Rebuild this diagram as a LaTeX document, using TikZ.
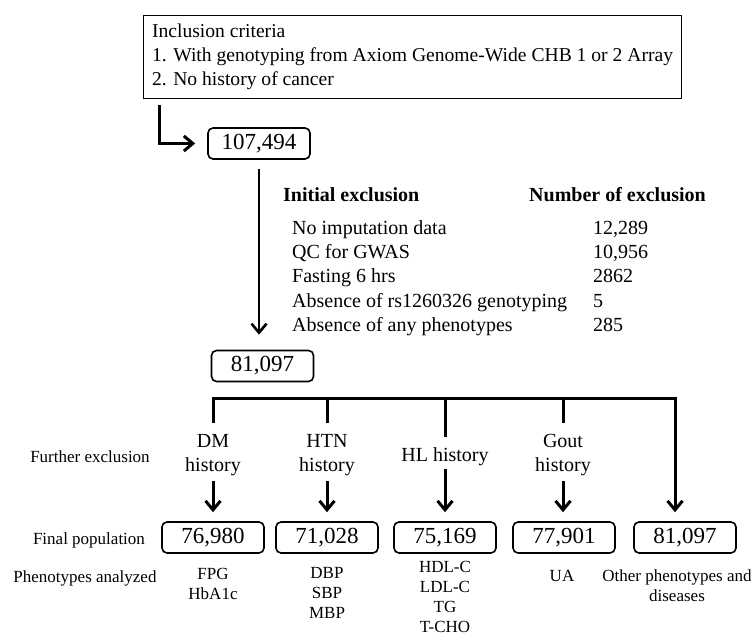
\documentclass[tikz,border=0pt]{standalone}
\usepackage{fontspec}
\setmainfont{Liberation Serif}
\usetikzlibrary{arrows.meta}
\begin{document}
\begin{tikzpicture}[>={Straight Barb[length=9bp,width=15bp]},line join=miter,
  numbox/.style={draw,rounded corners=5bp,line width=1.6bp,minimum width=102bp,minimum height=31bp,inner sep=0pt,font=\fontsize{23bp}{26bp}\selectfont},
  txt/.style={inner sep=0pt,font=\fontsize{20bp}{24bp}\selectfont},
  hdr/.style={inner sep=0pt,font=\fontsize{20bp}{24bp}\selectfont\bfseries},
  mid/.style={inner sep=0pt,align=center,font=\fontsize{20bp}{24bp}\selectfont},
  small/.style={inner sep=0pt,align=center,font=\fontsize{17bp}{20bp}\selectfont},
  bar/.style={line width=3bp},
]
\useasboundingbox (0bp,0bp) rectangle (754bp,637bp);
%%
\node (incl) at (143bp,622bp) [anchor=north west,draw,line width=1.1bp,inner xsep=8.5bp,inner ysep=0pt,minimum height=83bp,align=left,font=\fontsize{19.6bp}{24bp}\selectfont] {Inclusion criteria\\1. With genotyping from Axiom Genome-Wide CHB 1 or 2 Array\\2. No history of cancer};
  \node (n107) at (259bp,493.5bp) [numbox] {107,494};
  \node (n81) at (262.5bp,271bp) [numbox] {81,097};
  \coordinate (elbow) at (159bp,539bp);
  \draw [bar,->,shorten <=7bp,shorten >=12bp] (elbow) |- (n107.west);
  \draw [line width=2.6bp,->,shorten <=9bp,shorten >=15bp] (n107.south) -- (n107.south |- n81.north);
%
\node (hdinit) at (283bp,435.4bp) [hdr,anchor=base west] {Initial exclusion};
  \node (hdnum) at (529bp,435.4bp) [hdr,anchor=base west] {Number of exclusion};
  \node (ex1) at (292bp,402.5bp) [txt,anchor=base west] {No imputation data};
  \node (ex2) at (292bp,378.3bp) [txt,anchor=base west] {QC for GWAS};
  \node (ex3) at (292bp,354bp) [txt,anchor=base west] {Fasting 6 hrs};
  \node (ex4) at (292bp,329.8bp) [txt,anchor=base west] {Absence of rs1260326 genotyping};
  \node (ex5) at (292bp,305.5bp) [txt,anchor=base west] {Absence of any phenotypes};
  \node (num1) at (593bp,402.5bp) [txt,anchor=base west] {12,289};
  \node (num2) at (593bp,378.3bp) [txt,anchor=base west] {10,956};
  \node (num3) at (593bp,354bp) [txt,anchor=base west] {2862};
  \node (num4) at (593bp,329.8bp) [txt,anchor=base west] {5};
  \node (num5) at (593bp,305.5bp) [txt,anchor=base west] {285};
%
\node (lbfur) at (90bp,180bp) [small] {Further exclusion};
  \node (lbfin) at (89bp,97bp) [small] {Final population};
  \node (lbphe) at (85bp,59bp) [small] {Phenotypes analyzed};
  \node (dm) at (213bp,182bp) [mid] {DM\\history};
  \node (htn) at (327bp,182bp) [mid] {HTN\\history};
  \node (hl) at (445bp,180bp) [mid] {HL history};
  \node (gout) at (563bp,182bp) [mid] {Gout\\history};
  \node (fin1) at (213bp,99.5bp) [numbox] {76,980};
  \node (fin2) at (327bp,99.5bp) [numbox] {71,028};
  \node (fin3) at (445bp,99.5bp) [numbox] {75,169};
  \node (fin4) at (564bp,99.5bp) [numbox] {77,901};
  \node (fin5) at (685bp,99.5bp) [numbox] {81,097};
  \coordinate (brr) at (675bp,238bp);
  \draw [bar,->,shorten >=9bp] ([yshift=11bp]dm.north) |- (brr) -- (brr |- fin5.north);
  \draw [bar] (htn.north |- brr) -- ([yshift=11bp]htn.north);
  \draw [bar] (hl.north |- brr) -- ([yshift=11bp]hl.north);
  \draw [bar] (gout.north |- brr) -- ([yshift=11bp]gout.north);
  \draw [bar,->,shorten <=5bp,shorten >=9bp] (dm.south) -- (dm.south |- fin1.north);
  \draw [bar,->,shorten <=5bp,shorten >=9bp] (htn.south) -- (htn.south |- fin2.north);
  \draw [bar,->,shorten <=3bp,shorten >=9bp] (hl.south) -- (hl.south |- fin3.north);
  \draw [bar,->,shorten <=5bp,shorten >=9bp] (gout.south) -- (gout.south |- fin4.north);
  \node (ph1) at (213bp,69.4bp) [small,anchor=north] {FPG\\HbA1c};
  \node (ph2) at (327bp,69.4bp) [small,anchor=north] {DBP\\SBP\\MBP};
  \node (ph3) at (445bp,76.4bp) [small,anchor=north] {HDL-C\\LDL-C\\TG\\T-CHO};
  \node (ph4) at (562bp,67.4bp) [small,anchor=north] {UA};
  \node (ph5) at (677bp,67.4bp) [small,anchor=north] {Other phenotypes and\\diseases};
%
\end{tikzpicture}
\end{document}
